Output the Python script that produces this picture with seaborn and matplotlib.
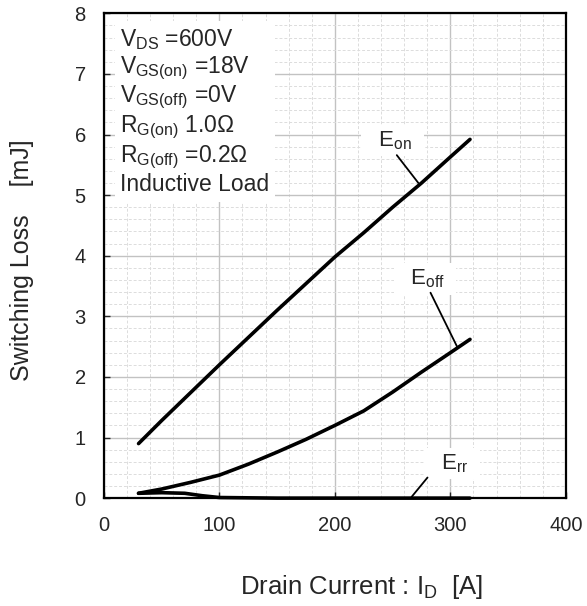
import numpy as np
import pandas as pd
import seaborn as sns
import matplotlib.pyplot as plt
from matplotlib.ticker import MultipleLocator

# valores
corrente = [30, 50, 75, 100, 125, 150, 175, 200, 225, 250, 275, 300, 317]
e_on = [0.90, 1.28, 1.74, 2.20, 2.65, 3.10, 3.54, 3.98, 4.38, 4.80, 5.20, 5.63, 5.92]
e_off = [0.08, 0.15, 0.26, 0.38, 0.56, 0.76, 0.97, 1.20, 1.44, 1.75, 2.08, 2.40, 2.62]
corrente_rr = [30, 50, 70, 85, 100, 150, 200, 250, 317]
e_rr = [0.08, 0.09, 0.08, 0.04, 0.01, 0.0, 0.0, 0.0, 0.0]

condicoes = ["V$_{\\mathrm{DS}}$ =600V",
             "V$_{\\mathrm{GS(on)}}$ =18V",
             "V$_{\\mathrm{GS(off)}}$ =0V",
             "R$_{\\mathrm{G(on)}}$ 1.0\u03a9",
             "R$_{\\mathrm{G(off)}}$ =0.2\u03a9",
             "Inductive Load"]

sns.set_style("white")
plt.rcParams['font.family'] = ['Liberation Sans', 'DejaVu Sans']
plt.rcParams['mathtext.fontset'] = 'custom'
plt.rcParams['mathtext.rm'] = 'Liberation Sans'
plt.rcParams['mathtext.it'] = 'Liberation Sans'

fig = plt.figure(figsize=(5.87, 6.06), dpi=100)
ax = fig.add_axes([0.177, 0.178, 0.787, 0.8])

df_on = pd.DataFrame({'Id': corrente, 'E': e_on})
df_off = pd.DataFrame({'Id': corrente, 'E': e_off})
df_rr = pd.DataFrame({'Id': corrente_rr, 'E': e_rr})

for d in (df_on, df_off, df_rr):
    sns.lineplot(data=d, x='Id', y='E', color='black', linewidth=2.6, ax=ax,
                 clip_on=False, zorder=5)

ax.set_xlim(0, 400)
ax.set_ylim(0, 8)
ax.xaxis.set_major_locator(MultipleLocator(100))
ax.xaxis.set_minor_locator(MultipleLocator(20))
ax.yaxis.set_major_locator(MultipleLocator(1))
ax.yaxis.set_minor_locator(MultipleLocator(0.2))
ax.grid(which='major', color='#c2c2c2', linewidth=1.0, linestyle='-')
ax.grid(which='minor', color='#dcdcdc', linewidth=0.7, linestyle=(0, (3, 2)))
ax.set_axisbelow(True)
ax.tick_params(which='major', direction='in', length=4, width=1, labelsize=14.5,
               left=True, bottom=True, pad=13)
ax.tick_params(which='minor', length=0)
for s in ax.spines.values():
    s.set_linewidth(1.6)
    s.set_color('black')

ax.set_xlabel("Drain Current : I$_{\\mathrm{D}}$  [A]", fontsize=18.5)
ax.set_ylabel("Switching Loss    [mJ]", fontsize=18)
ax.xaxis.set_label_coords(0.558, -0.155)
ax.yaxis.set_label_coords(-0.152, 0.49)

# caixa de condicoes
ax.text(0.035, 0.972, "\n".join(condicoes), transform=ax.transAxes, fontsize=16.5,
        va='top', ha='left', linespacing=1.13,
        bbox=dict(facecolor='white', edgecolor='none', pad=4), zorder=3)

# rotulos das curvas
caixa = dict(facecolor='white', edgecolor='none', boxstyle='square,pad=0.2')
ax.text(250, 5.9, "  E$_{\\mathrm{on}}$  ", fontsize=16, ha='center', va='center',
        bbox=caixa, zorder=3)
ax.plot([253.6, 272.3], [5.66, 5.2], color='black', linewidth=1.3, zorder=4)
ax.text(278, 3.62, "  E$_{\\mathrm{off}}$  ", fontsize=16, ha='center', va='center',
        bbox=caixa, zorder=3)
ax.plot([282.8, 305.8], [3.39, 2.5], color='black', linewidth=1.3, zorder=4)
ax.text(302, 0.57, "  E$_{\\mathrm{rr}}$  ", fontsize=16, ha='center', va='center',
        bbox=caixa, zorder=3)
ax.plot([266.4, 280.2], [0.02, 0.34], color='black', linewidth=1.3, zorder=4)

fig.savefig('out.png', dpi=100)
